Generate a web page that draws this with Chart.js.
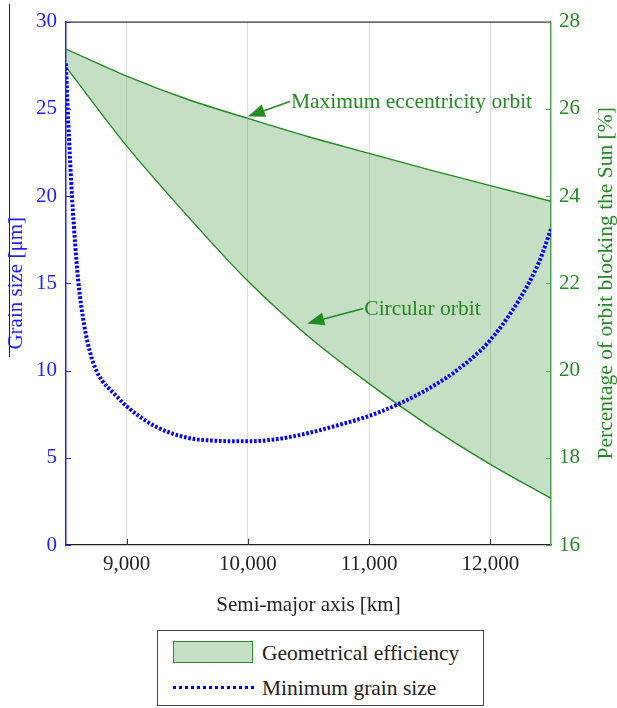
<!DOCTYPE html>
<html>
<head>
<meta charset="utf-8">
<script src="https://cdn.jsdelivr.net/npm/chart.js@4/dist/chart.umd.min.js"></script>
<style>
  html, body { margin: 0; padding: 0; background: #fff; }
  body { width: 617px; height: 708px; position: relative; overflow: hidden; font-family: 'Liberation Serif', 'DejaVu Serif', serif; }
  #c { position: absolute; left: 0; top: 0; }
  #artifact { position: absolute; left: 9px; top: 4px; width: 1px; height: 353px; background: #222; }
  #legend { position: absolute; left: 157px; top: 630px; width: 325px; height: 74px; border: 1px solid #444; font-size: 21.5px; color: #222; }
  .sw1 { position: absolute; left: 15px; top: 10px; width: 78px; height: 20px; background: rgba(46,139,46,0.28); border: 1.5px solid #2e8b2e; }
  .sw2 { position: absolute; left: 15px; top: 55px; width: 81px; height: 0; border-top: 3px dotted #0000ff; }
  .lt { position: absolute; left: 104px; line-height: 24px; white-space: nowrap; }
</style>
</head>
<body>
<canvas id="c" width="617" height="622"></canvas>
<div id="artifact"></div>
<div id="legend">
  <div class="sw1"></div><div class="lt" style="top:10px">Geometrical efficiency</div>
  <div class="sw2"></div><div class="lt" style="top:45px">Minimum grain size</div>
</div>
<script>
// ---- data ----
const semiMajorAxisKm    = [8500, 9000, 9500, 10000, 10500, 11000, 11500, 12000, 12500];
const maxEccentricityPct = [27.37, 26.75, 26.22, 25.78, 25.36, 24.98, 24.6, 24.24, 23.88];
const circularOrbitPct   = [26.96, 25.15, 23.55, 22.05, 20.78, 19.7, 18.72, 17.85, 17.07];

const grainAxisKm    = [8500, 8510, 8525, 8550, 8575, 8600, 8650, 8700, 8750, 8800, 8900, 9000, 9100, 9250, 9500, 9750, 10000, 10250, 10500, 10750, 11000, 11250, 11500, 11750, 12000, 12250, 12400, 12500];
const minGrainSizeUm = [27.6, 25.6, 23.3, 19.9, 17.3, 15.2, 12.6, 11.0, 10.0, 9.4, 8.65, 7.95, 7.4, 6.75, 6.15, 5.97, 5.94, 6.08, 6.42, 6.88, 7.4, 8.1, 9.0, 10.15, 11.75, 14.2, 16.2, 18.1];

const xTickValues = [9000, 10000, 11000, 12000];
const leftTickValues = [0, 5, 10, 15, 20, 25, 30];
const rightTickValues = [16, 18, 20, 22, 24, 26, 28];

const annotations = [
  { text: 'Maximum eccentricity orbit', series: maxEccentricityPct, x: 10000, tipDy: -2, dx: 42, dy: -15 },
  { text: 'Circular orbit', series: circularOrbitPct, x: 10490, tipDy: -12, dx: 56, dy: -15 }
];
const rightTitle = 'Percentage of orbit blocking the Sun [%]';

// ---- styles ----
const FONT = "'Liberation Serif', 'DejaVu Serif', serif";
const BLUE = '#1f1fff';
const GREEN_TXT = '#228b22';
const GREEN_LINE = '#228b22';
const GREEN_AXIS = '#52a852';
const FILL = 'rgba(46,139,46,0.28)';

function pts(xs, ys) { return xs.map((x, i) => ({ x: x, y: ys[i] })); }
function lerp(xs, ys, x) {
  for (let i = 0; i < xs.length - 1; i++) {
    if (x >= xs[i] && x <= xs[i + 1]) {
      const t = (x - xs[i]) / (xs[i + 1] - xs[i]);
      return ys[i] + t * (ys[i + 1] - ys[i]);
    }
  }
  return ys[ys.length - 1];
}

const decor = {
  id: 'decor',
  afterDraw(chart) {
    const { ctx, chartArea: a, scales } = chart;
    const x = scales.x, y = scales.y, y2 = scales.y2;
    ctx.save();
    // top frame line
    ctx.strokeStyle = '#333'; ctx.lineWidth = 1.2;
    ctx.beginPath(); ctx.moveTo(a.left, a.top + 0.5); ctx.lineTo(a.right, a.top + 0.5); ctx.stroke();
    // inward ticks
    ctx.lineWidth = 1;
    ctx.strokeStyle = '#333';
    xTickValues.forEach(v => {
      const px = Math.round(x.getPixelForValue(v)) + 0.5;
      ctx.beginPath(); ctx.moveTo(px, a.bottom); ctx.lineTo(px, a.bottom - 6); ctx.stroke();
    });
    ctx.strokeStyle = BLUE;
    leftTickValues.forEach(v => {
      const py = Math.round(y.getPixelForValue(v)) + 0.5;
      ctx.beginPath(); ctx.moveTo(a.left, py); ctx.lineTo(a.left + 5, py); ctx.stroke();
    });
    ctx.strokeStyle = GREEN_AXIS;
    rightTickValues.forEach(v => {
      const py = Math.round(y2.getPixelForValue(v)) + 0.5;
      ctx.beginPath(); ctx.moveTo(a.right, py); ctx.lineTo(a.right - 5, py); ctx.stroke();
    });
    // annotations with arrows
    ctx.font = '21.5px ' + FONT;
    ctx.fillStyle = GREEN_TXT; ctx.strokeStyle = GREEN_TXT;
    ctx.textAlign = 'left'; ctx.textBaseline = 'middle';
    annotations.forEach(an => {
      const tx = x.getPixelForValue(an.x);
      const ty = y2.getPixelForValue(lerp(semiMajorAxisKm, an.series, an.x)) + an.tipDy;
      const sx = tx + an.dx, sy = ty + an.dy;
      const ang = Math.atan2(ty - sy, tx - sx);
      const L = 17, W = 6.5;
      const bx = tx - L * Math.cos(ang), by = ty - L * Math.sin(ang);
      ctx.lineWidth = 1.5;
      ctx.beginPath(); ctx.moveTo(sx, sy); ctx.lineTo(bx, by); ctx.stroke();
      ctx.beginPath();
      ctx.moveTo(tx, ty);
      ctx.lineTo(bx + W * Math.sin(ang), by - W * Math.cos(ang));
      ctx.lineTo(bx - W * Math.sin(ang), by + W * Math.cos(ang));
      ctx.closePath(); ctx.fill();
      ctx.fillText(an.text, sx + 1, sy + 1);
    });
    // right axis title (reads bottom-to-top)
    ctx.translate(606, (a.top + a.bottom) / 2);
    ctx.rotate(-Math.PI / 2);
    ctx.textAlign = 'center'; ctx.textBaseline = 'middle';
    ctx.fillStyle = GREEN_TXT;
    ctx.fillText(rightTitle, 0, 0);
    ctx.restore();
  }
};

new Chart(document.getElementById('c'), {
  type: 'line',
  data: {
    datasets: [
      {
        label: 'Minimum grain size',
        data: pts(grainAxisKm, minGrainSizeUm),
        yAxisID: 'y',
        borderColor: '#0000ff',
        borderWidth: 4,
        borderDash: [2.6, 1.8],
        pointRadius: 0,
        fill: false,
        cubicInterpolationMode: 'monotone',
        order: 0
      },
      {
        label: 'Maximum eccentricity orbit',
        data: pts(semiMajorAxisKm, maxEccentricityPct),
        yAxisID: 'y2',
        borderColor: GREEN_LINE,
        borderWidth: 1.4,
        backgroundColor: FILL,
        pointRadius: 0,
        fill: '+1',
        cubicInterpolationMode: 'monotone',
        order: 1
      },
      {
        label: 'Circular orbit',
        data: pts(semiMajorAxisKm, circularOrbitPct),
        yAxisID: 'y2',
        borderColor: GREEN_LINE,
        borderWidth: 1.4,
        pointRadius: 0,
        fill: false,
        cubicInterpolationMode: 'monotone',
        order: 1
      }
    ]
  },
  options: {
    responsive: false,
    animation: false,
    layout: { padding: { top: 15, left: 0, right: 0, bottom: 0 } },
    plugins: { legend: { display: false }, tooltip: { enabled: false } },
    scales: {
      x: {
        type: 'linear',
        min: 8500, max: 12500,
        afterBuildTicks: s => { s.ticks = xTickValues.map(v => ({ value: v })); },
        afterFit: s => { s.height = 77; },
        grid: { display: true, drawTicks: false, color: '#dcdcdc', lineWidth: 1 },
        border: { display: true, color: '#222', width: 1.2 },
        ticks: {
          padding: 7,
          color: '#222',
          font: { family: FONT, size: 21 },
          callback: v => v.toLocaleString('en-US'),
          maxRotation: 0
        },
        title: {
          display: true,
          text: 'Semi-major axis [km]',
          color: '#222',
          font: { family: FONT, size: 21 },
          padding: { top: 4, bottom: 4 }
        }
      },
      y: {
        position: 'left',
        min: 0, max: 30,
        afterBuildTicks: s => { s.ticks = leftTickValues.map(v => ({ value: v })); },
        afterFit: s => { s.width = 66; },
        grid: { display: false, drawTicks: false },
        border: { display: true, color: BLUE, width: 1.5 },
        ticks: { padding: 9, color: BLUE, font: { family: FONT, size: 21 } },
        title: {
          display: true,
          text: 'Grain size [μm]',
          color: BLUE,
          font: { family: FONT, size: 21 },
          padding: { top: 4, bottom: 4 }
        }
      },
      y2: {
        position: 'right',
        min: 16, max: 28,
        afterBuildTicks: s => { s.ticks = rightTickValues.map(v => ({ value: v })); },
        afterFit: s => { s.width = 66; },
        grid: { display: false, drawTicks: false },
        border: { display: true, color: GREEN_AXIS, width: 1.5 },
        ticks: { padding: 8, color: GREEN_TXT, font: { family: FONT, size: 21 } },
        title: { display: false }
      }
    }
  },
  plugins: [decor]
});
</script>
</body>
</html>
